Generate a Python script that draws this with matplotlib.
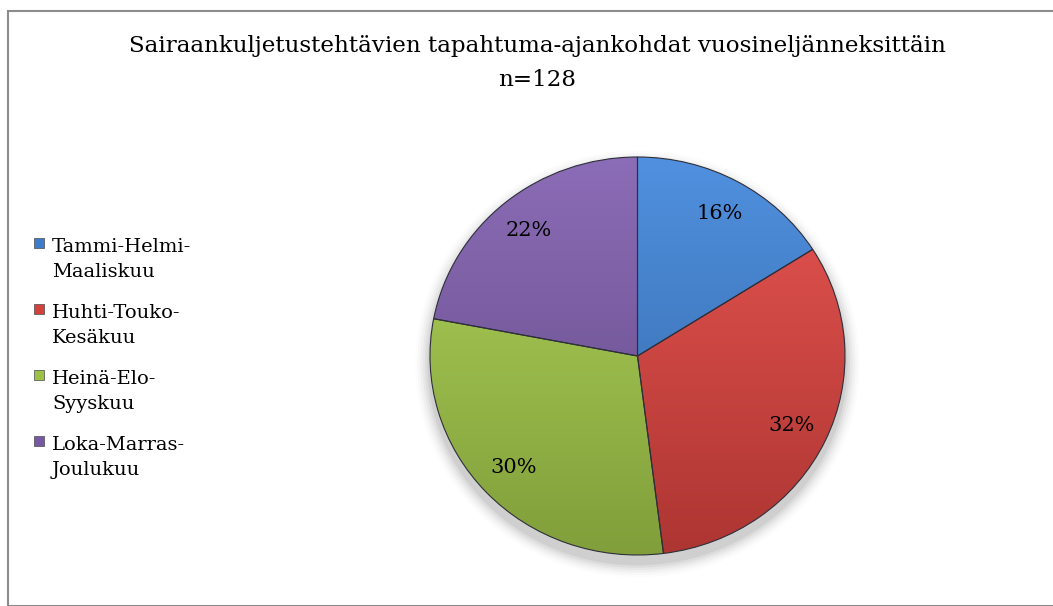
import numpy as np
import matplotlib
matplotlib.use("Agg")
import matplotlib.pyplot as plt
from matplotlib.colors import to_rgb
from matplotlib.patches import Rectangle, Ellipse

# Data
categories = ["Tammi-Helmi-\nMaaliskuu", "Huhti-Touko-\nKesäkuu", "Heinä-Elo-\nSyyskuu", "Loka-Marras-\nJoulukuu"]
shares = [16, 32, 30, 22]
colors = ["#3C7CCA", "#D3413D", "#9DC147", "#7758A2"]
title_line1 = "Sairaankuljetustehtävien tapahtuma-ajankohdat vuosineljänneksittäin"
title_line2 = "n=128"

plt.rcParams["font.family"] = ["DejaVu Serif"]

W, H = 1053, 606
fig = plt.figure(figsize=(W / 100, H / 100), dpi=100)
fig.patch.set_facecolor("white")


def fx(px):
    return px / W


def fy(py):
    return 1 - py / H


# chart frame
fig.patches.append(Rectangle((fx(8), 0), 1.2, fy(11), transform=fig.transFigure,
                             fill=False, edgecolor="#8C8C8C", linewidth=1.5))

fig.text(fx(537), fy(46), title_line1, ha="center", va="center", fontsize=16.6)
fig.text(fx(537), fy(80), title_line2, ha="center", va="center", fontsize=16.6)

ax = fig.add_axes([fx(430), fy(555), 415 / W, 398 / H])

# soft shadow below the pie
for k, a in enumerate(np.linspace(0.05, 0.01, 6)):
    s = 1.0 + 0.012 * (k + 1)
    ax.add_patch(Ellipse((0.0, -0.04), 2 * s, 2 * s, facecolor="black", alpha=a,
                         edgecolor="none", zorder=0, clip_on=False))

wedges, texts, autotexts = ax.pie(shares, colors=colors, startangle=90, counterclock=False,
                                  autopct=lambda p: f"{p:.0f}%", pctdistance=0.82,
                                  wedgeprops=dict(edgecolor="#2E2E3A", linewidth=0.8),
                                  textprops=dict(fontsize=15, color="black"))

# vertical shading inside each wedge
for w, c in zip(wedges, colors):
    base = np.array(to_rgb(c))
    light = np.clip(base + 0.08, 0, 1)
    dark = base * 0.82
    t = np.linspace(0, 1, 256)[:, None]
    grad = light[None, :] * (1 - t) + dark[None, :] * t
    img = np.repeat(grad[:, None, :], 4, axis=1)
    im = ax.imshow(img, extent=(-1, 1, -1, 1), origin="upper", aspect="auto",
                   interpolation="bilinear", zorder=w.get_zorder() - 0.01)
    im.set_clip_path(w)
    w.set_facecolor("none")

for t in autotexts:
    t.set_zorder(5)

ax.set_xlim(-1.0, 1.0)
ax.set_ylim(-1.0, 1.0)
ax.set_aspect("auto")
ax.axis("off")

# legend: square key beside the first line of each two-line label
first_baseline, entry_step, line_step = 252, 66, 25
for i, (label, c) in enumerate(zip(categories, colors)):
    base_y = first_baseline + entry_step * i
    fig.patches.append(Rectangle((fx(34), fy(base_y - 4)), 10 / W, 10 / H, transform=fig.transFigure,
                                 facecolor=c, edgecolor="#4A4A4A", linewidth=0.5))
    for j, line in enumerate(label.split("\n")):
        fig.text(fx(52), fy(base_y + line_step * j), line, ha="left", va="baseline", fontsize=14)

fig.savefig("out.png", dpi=100, facecolor="white")
